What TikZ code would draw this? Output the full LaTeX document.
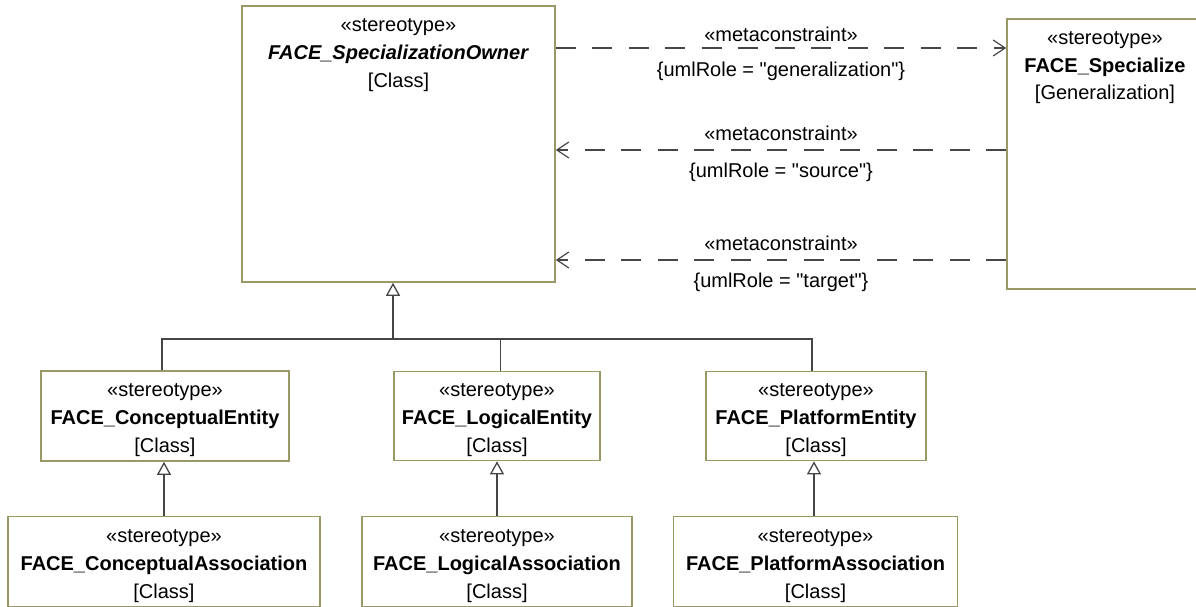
\documentclass[tikz,border=0pt]{standalone}
\usepackage{fontspec}
\setmainfont{Liberation Sans}[Ligatures=TeXOff]
\usetikzlibrary{arrows.meta,positioning}

\definecolor{boxline}{RGB}{153,153,102}
\definecolor{conline}{RGB}{70,70,70}

\newcommand{\stereotag}{\rule{0pt}{22pt}«stereotype»}

\tikzset{
  stereobox/.style={draw=boxline, line width=1.6pt, fill=white, align=center,
    inner sep=0pt, font=\fontsize{20}{28}\selectfont},
  lbl/.style={font=\fontsize{20}{28}\selectfont, inner sep=0pt, align=center},
  genline/.style={draw=conline, line width=1.3pt,
    -{Triangle[open,length=13pt,width=14pt]}},
  busline/.style={draw=conline, line width=1.3pt},
  metaline/.style={draw=conline, line width=1.2pt, dash pattern=on 20pt off 16.5pt,
    -{Straight Barb[length=12pt,width=16pt]}}
}

\begin{document}
\begin{tikzpicture}[x=1pt,y=-1pt]
\useasboundingbox (0,0) rectangle (1196,607);

% owner and generalization boxes
\node[stereobox, minimum width=313pt, minimum height=276pt] (owner) at (398.5,144) {};
\node[lbl, anchor=north] (ownerTxt) at ([yshift=-4.5pt]owner.north)
  {\stereotag\\\textbf{\textit{FACE\_SpecializationOwner}}\\{[Class]}};
\node[stereobox, minimum width=196pt, minimum height=270pt] (spec) at (1105,154) {};
\node[lbl, anchor=north, font=\fontsize{20}{27.5}\selectfont] (specTxt) at ([yshift=-4.5pt]spec.north)
  {\stereotag\\\textbf{FACE\_Specialize}\\{[Generalization]}};

% entities
\node[stereobox, minimum width=248pt, minimum height=90pt] (concEnt) at (165,416)
  {\stereotag\\\textbf{FACE\_ConceptualEntity}\\{[Class]}};
\node[stereobox, minimum width=206pt, minimum height=89pt] (logEnt) at (497,416)
  {\stereotag\\\textbf{FACE\_LogicalEntity}\\{[Class]}};
\node[stereobox, minimum width=220pt, minimum height=89pt] (platEnt) at (816,416)
  {\stereotag\\\textbf{FACE\_PlatformEntity}\\{[Class]}};

% associations
\node[stereobox, minimum width=312pt, minimum height=90pt] (concAssoc) at (164,561.5)
  {\stereotag\\\textbf{FACE\_ConceptualAssociation}\\{[Class]}};
\node[stereobox, minimum width=270pt, minimum height=90pt] (logAssoc) at (497,561.5)
  {\stereotag\\\textbf{FACE\_LogicalAssociation}\\{[Class]}};
\node[stereobox, minimum width=284pt, minimum height=90pt] (platAssoc) at (815.5,561.5)
  {\stereotag\\\textbf{FACE\_PlatformAssociation}\\{[Class]}};

% generalizations
\coordinate (joint) at (393,339);
\draw[genline] (joint) -- (joint |- owner.south);
\draw[busline] ([xshift=-3pt]concEnt.north) |- (joint);
\draw[busline] ([xshift=3.5pt]logEnt.north) |- (joint);
\draw[busline] ([xshift=-4pt]platEnt.north) |- (joint);
\draw[genline] (concAssoc.north) -- (concAssoc.north |- concEnt.south);
\draw[genline] (logAssoc.north) -- (logAssoc.north |- logEnt.south);
\draw[genline] ([xshift=-1.5pt]platAssoc.north) -- ([xshift=-1.5pt]platAssoc.north |- platEnt.south);

% metaconstraints
\coordinate (r1) at (0,48);
\coordinate (r2) at (0,150);
\coordinate (r3) at (0,260);
\draw[metaline] (owner.east |- r1) --
  node[lbl, yshift=14pt] (mc1) {«metaconstraint»}
  node[lbl, yshift=-23pt] (role1) {\{umlRole = "generalization"\}} (spec.west |- r1);
\draw[metaline] (spec.west |- r2) --
  node[lbl, yshift=17pt] (mc2) {«metaconstraint»}
  node[lbl, yshift=-22pt] (role2) {\{umlRole = "source"\}} (owner.east |- r2);
\draw[metaline] (spec.west |- r3) --
  node[lbl, yshift=17pt] (mc3) {«metaconstraint»}
  node[lbl, yshift=-22pt] (role3) {\{umlRole = "target"\}} (owner.east |- r3);
\end{tikzpicture}
\end{document}
